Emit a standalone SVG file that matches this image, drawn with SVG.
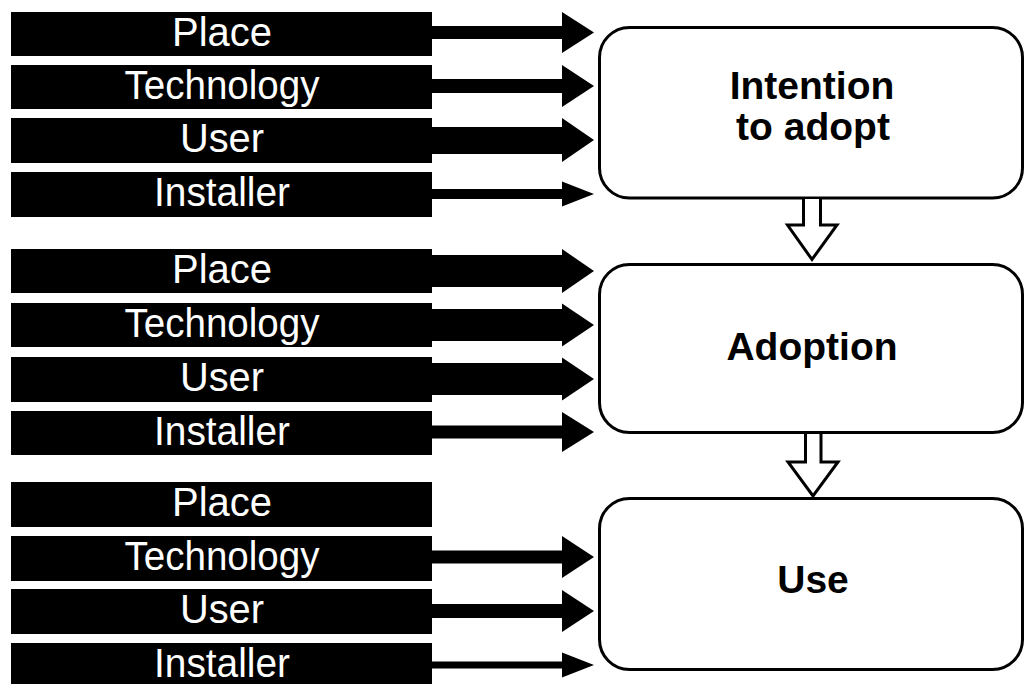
<svg xmlns="http://www.w3.org/2000/svg" width="1025" height="684" viewBox="0 0 1025 684">
  <style>
    .bar { fill: #000; }
    .lbl { fill: #fff; font-family: "Liberation Sans", Arial, sans-serif; font-size: 40px; text-anchor: middle; }
    .stage { fill: #fff; stroke: #000; stroke-width: 3; }
    .title { fill: #000; font-family: "Liberation Sans", Arial, sans-serif; font-size: 39px; font-weight: bold; text-anchor: middle; }
    .flow { fill: #000; }
    .step { fill: #fff; stroke: #000; stroke-width: 3; stroke-linejoin: miter; }
  </style>
  <rect width="1025" height="684" fill="#fff"/>

  <!-- factor bars, first stage -->
  <g id="intent-place"><rect class="bar" x="11" y="12" width="421" height="44"/><text class="lbl" x="222" y="46" textLength="100" lengthAdjust="spacingAndGlyphs">Place</text></g>
  <g id="intent-technology"><rect class="bar" x="11" y="65" width="421" height="44"/><text class="lbl" x="222" y="99" textLength="195" lengthAdjust="spacingAndGlyphs">Technology</text></g>
  <g id="intent-user"><rect class="bar" x="11" y="118" width="421" height="45"/><text class="lbl" x="222" y="152" textLength="84" lengthAdjust="spacingAndGlyphs">User</text></g>
  <g id="intent-installer"><rect class="bar" x="11" y="172" width="421" height="45"/><text class="lbl" x="222" y="206" textLength="136" lengthAdjust="spacingAndGlyphs">Installer</text></g>

  <!-- factor bars, second stage -->
  <g id="adopt-place"><rect class="bar" x="11" y="249" width="421" height="44"/><text class="lbl" x="222" y="283" textLength="100" lengthAdjust="spacingAndGlyphs">Place</text></g>
  <g id="adopt-technology"><rect class="bar" x="11" y="303" width="421" height="44"/><text class="lbl" x="222" y="337" textLength="195" lengthAdjust="spacingAndGlyphs">Technology</text></g>
  <g id="adopt-user"><rect class="bar" x="11" y="357" width="421" height="45"/><text class="lbl" x="222" y="391" textLength="84" lengthAdjust="spacingAndGlyphs">User</text></g>
  <g id="adopt-installer"><rect class="bar" x="11" y="411" width="421" height="44"/><text class="lbl" x="222" y="445" textLength="136" lengthAdjust="spacingAndGlyphs">Installer</text></g>

  <!-- factor bars, third stage -->
  <g id="use-place"><rect class="bar" x="11" y="482" width="421" height="45"/><text class="lbl" x="222" y="516" textLength="100" lengthAdjust="spacingAndGlyphs">Place</text></g>
  <g id="use-technology"><rect class="bar" x="11" y="536" width="421" height="45"/><text class="lbl" x="222" y="570" textLength="195" lengthAdjust="spacingAndGlyphs">Technology</text></g>
  <g id="use-user"><rect class="bar" x="11" y="589" width="421" height="45"/><text class="lbl" x="222" y="623" textLength="84" lengthAdjust="spacingAndGlyphs">User</text></g>
  <g id="use-installer"><rect class="bar" x="11" y="643" width="421" height="45"/><text class="lbl" x="222" y="677" textLength="136" lengthAdjust="spacingAndGlyphs">Installer</text></g>

  <!-- stage boxes -->
  <g id="intention">
    <rect class="stage" x="599.5" y="27.5" width="423" height="170.5" rx="30" ry="30"/>
    <text class="title" x="812" y="99">Intention</text>
    <text class="title" x="813" y="140">to adopt</text>
  </g>
  <g id="adoption">
    <rect class="stage" x="599.5" y="264.5" width="423" height="168" rx="30" ry="30"/>
    <text class="title" x="812" y="360">Adoption</text>
  </g>
  <g id="use">
    <rect class="stage" x="599.5" y="498.5" width="423" height="171" rx="30" ry="30"/>
    <text class="title" x="813" y="593">Use</text>
  </g>

  <!-- connectors: solid arrows from factors, hollow arrows between stages -->
  <g id="connectors">
    <polygon class="flow" points="432,26 562,26 562,12 594,32.5 562,53 562,39 432,39"/>
    <polygon class="flow" points="432,79 562,79 562,65 594,86 562,107 562,93 432,93"/>
    <polygon class="flow" points="432,127 562,127 562,118 594,140 562,162 562,154 432,154"/>
    <polygon class="flow" points="432,189 562,189 562,181.5 594,194 562,206.5 562,199 432,199"/>

    <polygon class="flow" points="432,255 562,255 562,249 594,271 562,293 562,287 432,287"/>
    <polygon class="flow" points="432,309 562,309 562,303.5 594,325 562,346.5 562,341 432,341"/>
    <polygon class="flow" points="432,363 562,363 562,357.5 594,379 562,400.5 562,395 432,395"/>
    <polygon class="flow" points="432,425.5 562,425.5 562,412 594,432 562,452 562,438.5 432,438.5"/>

    <polygon class="flow" points="432,550.5 562,550.5 562,536 594,557 562,578 562,563.5 432,563.5"/>
    <polygon class="flow" points="432,604 562,604 562,590 594,611 562,632 562,618 432,618"/>
    <polygon class="flow" points="432,661.5 562,661.5 562,652.5 594,665 562,677.5 562,668.5 432,668.5"/>

    <path class="step" d="M803.5,199 V225 H787.5 L812,259.5 L837,225 H820.5 V199"/>
    <path class="step" d="M805.5,434 V462 H788 L813,496 L838,462 H821 V434"/>
  </g>
</svg>
